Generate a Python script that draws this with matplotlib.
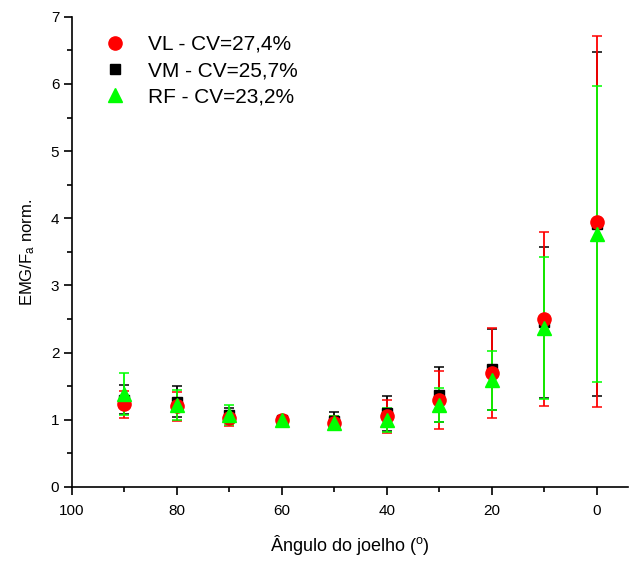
import matplotlib
matplotlib.use('Agg')
import matplotlib.pyplot as plt
from matplotlib.ticker import MultipleLocator

plt.rcParams['font.family'] = ['Liberation Sans', 'DejaVu Sans']
plt.rcParams['mathtext.default'] = 'regular'

# Dados
angulos = [90, 80, 70, 60, 50, 40, 30, 20, 10, 0]

vl_media = [1.23, 1.20, 1.02, 1.00, 0.95, 1.05, 1.30, 1.70, 2.50, 3.95]
vl_dp = [0.20, 0.22, 0.11, 0.00, 0.10, 0.24, 0.43, 0.67, 1.30, 2.76]

vm_media = [1.30, 1.27, 1.07, 1.00, 0.98, 1.10, 1.37, 1.75, 2.45, 3.92]
vm_dp = [0.22, 0.23, 0.10, 0.00, 0.13, 0.26, 0.41, 0.60, 1.12, 2.56]

rf_media = [1.38, 1.22, 1.07, 1.00, 0.95, 1.00, 1.22, 1.59, 2.37, 3.77]
rf_dp = [0.31, 0.23, 0.15, 0.00, 0.10, 0.18, 0.25, 0.44, 1.06, 2.20]

rotulos = ['VL - CV=27,4%', 'VM - CV=25,7%', 'RF - CV=23,2%']

fig = plt.figure(figsize=(6.41, 5.61), dpi=100)
ax = fig.add_axes([0.112, 0.132, 0.868, 0.838])

# ordem de desenho: VM, VL, RF (verde por cima)
estilo = dict(elinewidth=1.3, capsize=3.6, capthick=1.1, linestyle='none')
h_vm = ax.errorbar(angulos, vm_media, yerr=vm_dp, marker='s', color='black', ms=7,
                   ecolor='black', **estilo)
h_vl = ax.errorbar(angulos, vl_media, yerr=vl_dp, marker='o', color='red', ms=9.5,
                   ecolor='red', **estilo)
h_rf = ax.errorbar(angulos, rf_media, yerr=rf_dp, marker='^', color='#00ff00', ms=9.5,
                   ecolor='#00ff00', **estilo)

ax.set_xlim(100, -6)
ax.set_ylim(0, 7)
ax.xaxis.set_major_locator(MultipleLocator(20))
ax.xaxis.set_minor_locator(MultipleLocator(10))
ax.yaxis.set_major_locator(MultipleLocator(1))
ax.yaxis.set_minor_locator(MultipleLocator(0.5))

ax.spines['top'].set_visible(False)
ax.spines['right'].set_visible(False)
ax.spines['left'].set_linewidth(1.2)
ax.spines['bottom'].set_linewidth(1.2)
ax.tick_params(which='major', direction='out', length=6, width=1.2, labelsize=11)
ax.tick_params(which='minor', direction='out', length=3.6, width=1.2)
ax.tick_params(axis='x', which='major', pad=6)
ax.tick_params(axis='y', which='major', pad=3)

ax.set_xlabel('Ângulo do joelho ($^o$)', fontsize=13, labelpad=11)
ax.set_ylabel('EMG/F$_a$ norm.', fontsize=12, labelpad=10)

# legenda so com os marcadores
leg_handles = [h[0] for h in (h_vl, h_vm, h_rf)]
ax.legend(leg_handles, rotulos, loc='upper left', bbox_to_anchor=(0.04, 0.9615),
          frameon=False, fontsize=15, labelspacing=0.34, handlelength=2.0,
          handletextpad=0.6, borderpad=0, borderaxespad=0)

fig.savefig('out.png', dpi=100)
